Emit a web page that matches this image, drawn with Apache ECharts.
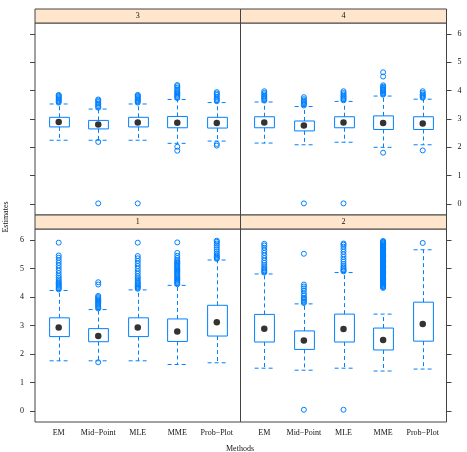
<!DOCTYPE html>
<html>
<head>
<meta charset="utf-8">
<title>Estimates by method</title>
<script src="https://cdn.jsdelivr.net/npm/echarts@6/dist/echarts.min.js"></script>
<style>
  html, body { margin: 0; padding: 0; background: #fff; }
  #chart { width: 467px; height: 452px; }
</style>
</head>
<body>
<div id="chart"></div>
<script>
(function () {
  'use strict';

  const methods = ['EM', 'Mid\u2212Point', 'MLE', 'MME', 'Prob\u2212Plot'];
  const panelNames = ['3', '4', '1', '2'];
  const yTicks = [0, 1, 2, 3, 4, 5, 6];
  const xTicks = [1, 2, 3, 4, 5];

  // per method: [lower whisker, Q1, median, Q3, upper whisker]
  const stats3 = [
    [2.25, 2.72, 2.89, 3.06, 3.53],
    [2.25, 2.65, 2.81, 2.95, 3.35],
    [2.25, 2.72, 2.88, 3.06, 3.53],
    [2.14, 2.69, 2.87, 3.09, 3.69],
    [2.22, 2.68, 2.86, 3.06, 3.58]
  ];
  const stats4 = [
    [2.15, 2.69, 2.88, 3.08, 3.60],
    [2.09, 2.58, 2.77, 2.93, 3.44],
    [2.18, 2.69, 2.88, 3.08, 3.62],
    [2.00, 2.63, 2.86, 3.11, 3.81],
    [2.09, 2.63, 2.84, 3.08, 3.70]
  ];
  const stats1 = [
    [1.76, 2.61, 2.93, 3.27, 4.23],
    [1.76, 2.43, 2.63, 2.89, 3.56],
    [1.76, 2.61, 2.93, 3.27, 4.25],
    [1.63, 2.44, 2.79, 3.23, 4.41],
    [1.69, 2.63, 3.11, 3.71, 5.30]
  ];
  const stats2 = [
    [1.50, 2.42, 2.89, 3.39, 4.81],
    [1.43, 2.16, 2.47, 2.81, 3.76],
    [1.50, 2.42, 2.88, 3.40, 4.86],
    [1.40, 2.14, 2.49, 2.91, 3.40],
    [1.47, 2.45, 3.05, 3.82, 5.66]
  ];

  // outlying points per method
  const outliers3 = [
    [3.58, 3.62, 3.66, 3.70, 3.74, 3.78, 3.82, 3.85],
    [0.02, 2.19, 3.40, 3.45, 3.50, 3.55, 3.60, 3.65, 3.69],
    [0.02, 3.58, 3.62, 3.66, 3.70, 3.74, 3.78, 3.82, 3.85],
    [1.88, 2.02, 3.74, 3.78, 3.82, 3.86, 3.90, 3.94, 3.98, 4.04, 4.10, 4.16, 4.20],
    [2.06, 2.12, 3.63, 3.68, 3.72, 3.78, 3.85, 3.90, 3.95]
  ];
  const outliers4 = [
    [3.65, 3.70, 3.74, 3.78, 3.82, 3.87, 3.92, 3.98],
    [0.02, 3.48, 3.52, 3.56, 3.60, 3.65, 3.70, 3.77],
    [0.02, 3.66, 3.70, 3.74, 3.78, 3.82, 3.87, 3.92, 3.98],
    [1.81, 3.86, 3.90, 3.94, 3.98, 4.02, 4.06, 4.10, 4.14, 4.19, 4.50, 4.65],
    [1.89, 3.75, 3.79, 3.83, 3.87, 3.92, 3.98]
  ];
  const outliers1 = [
    [4.27, 4.31, 4.35, 4.39, 4.43, 4.47, 4.51, 4.56, 4.62, 4.68, 4.75, 4.84, 4.93, 5.02, 5.11, 5.20,
     5.29, 5.38, 5.46, 5.91],
    [1.71, 3.60, 3.64, 3.68, 3.72, 3.76, 3.80, 3.84, 3.88, 3.92, 3.96, 4.00, 4.04, 4.44, 4.52],
    [4.29, 4.33, 4.37, 4.41, 4.45, 4.49, 4.54, 4.60, 4.66, 4.73, 4.82, 4.91, 5.00, 5.09, 5.18, 5.27,
     5.36, 5.44, 5.91],
    [4.45, 4.49, 4.53, 4.57, 4.61, 4.65, 4.69, 4.73, 4.77, 4.81, 4.85, 4.89, 4.93, 4.97, 5.01, 5.05,
     5.09, 5.13, 5.17, 5.21, 5.25, 5.30, 5.37, 5.45, 5.55, 5.92],
    [5.34, 5.38, 5.42, 5.47, 5.53, 5.60, 5.67, 5.74, 5.81, 5.88, 5.94, 5.98]
  ];
  const outliers2 = [
    [4.86, 4.90, 4.94, 4.99, 5.05, 5.12, 5.20, 5.28, 5.37, 5.46, 5.55, 5.64, 5.73, 5.81, 5.87],
    [0.04, 3.79, 3.83, 3.89, 3.94, 3.98, 4.05, 4.12, 4.22, 4.30, 4.37, 4.44, 5.52],
    [0.04, 4.90, 4.94, 4.98, 5.03, 5.09, 5.16, 5.24, 5.32, 5.41, 5.50, 5.59, 5.68, 5.77, 5.84, 5.88],
    [4.32, 4.35, 4.38, 4.41, 4.44, 4.47, 4.50, 4.53, 4.56, 4.59, 4.62, 4.65, 4.68, 4.71, 4.74, 4.77,
     4.80, 4.83, 4.86, 4.89, 4.92, 4.95, 4.98, 5.01, 5.04, 5.07, 5.10, 5.13, 5.16, 5.19, 5.22, 5.25,
     5.28, 5.31, 5.34, 5.37, 5.40, 5.43, 5.46, 5.49, 5.52, 5.55, 5.58, 5.61, 5.64, 5.67, 5.70, 5.73,
     5.76, 5.79, 5.82, 5.85, 5.88, 5.91, 5.94, 5.97],
    [5.90]
  ];

  const allStats = [stats3, stats4, stats1, stats2];
  const allOutliers = [outliers3, outliers4, outliers1, outliers2];

  const BLUE = '#0080ff';
  const FRAME = '#444';
  const FONT = 'Liberation Serif';

  // panel rectangles (order: 3, 4, 1, 2)
  const panels = [
    { left: 35, top: 23, width: 205.5, height: 192 },
    { left: 240.5, top: 23, width: 206, height: 192 },
    { left: 35, top: 229, width: 205.5, height: 193 },
    { left: 240.5, top: 229, width: 206, height: 193 }
  ];
  const STRIP_H = 14;

  function renderBox(params, api) {
    const x = api.value(0);
    const lo = api.coord([x, api.value(1)]);
    const q1 = api.coord([x, api.value(2)]);
    const q3 = api.coord([x, api.value(4)]);
    const hi = api.coord([x, api.value(5)]);
    const hw = api.size([0.5, 0])[0] / 2;
    const cx = Math.round(lo[0]) + 0.5;
    const dash = { stroke: BLUE, lineWidth: 1, lineDash: [4, 3], fill: null };
    return {
      type: 'group',
      children: [
        { type: 'rect', shape: { x: cx - hw, y: q3[1], width: hw * 2, height: q1[1] - q3[1] },
          style: { fill: null, stroke: BLUE, lineWidth: 1 } },
        { type: 'line', shape: { x1: cx, y1: q3[1], x2: cx, y2: hi[1] }, style: dash },
        { type: 'line', shape: { x1: cx, y1: q1[1], x2: cx, y2: lo[1] }, style: dash },
        { type: 'line', shape: { x1: cx - hw, y1: hi[1], x2: cx + hw, y2: hi[1] }, style: dash },
        { type: 'line', shape: { x1: cx - hw, y1: lo[1], x2: cx + hw, y2: lo[1] }, style: dash }
      ]
    };
  }

  const grids = panels.map(p => Object.assign({ show: true, borderColor: FRAME, borderWidth: 1, backgroundColor: '#fff' }, p));

  const xAxes = panels.map((p, i) => ({
    type: 'value', gridIndex: i, min: 0.4, max: 5.6,
    axisLine: { show: false }, axisTick: { show: false }, splitLine: { show: false },
    axisLabel: {
      show: i >= 2, customValues: xTicks, margin: 7,
      fontFamily: FONT, fontSize: 8, color: '#111',
      formatter: v => methods[Math.round(v) - 1] || ''
    }
  }));

  const yAxes = panels.map((p, i) => ({
    type: 'value', gridIndex: i, min: -0.39, max: 6.39,
    position: (i % 2 === 0) ? 'left' : 'right',
    axisLine: { show: false }, splitLine: { show: false },
    axisTick: { show: true, customValues: yTicks, length: 5, lineStyle: { color: FRAME } },
    axisLabel: {
      show: i === 1 || i === 2, customValues: yTicks, margin: 11,
      fontFamily: FONT, fontSize: 8, color: '#111'
    }
  }));

  const series = [];
  allStats.forEach((stats, i) => {
    series.push({
      type: 'custom', xAxisIndex: i, yAxisIndex: i, renderItem: renderBox,
      encode: { x: 0, y: [1, 2, 3, 4, 5] },
      data: stats.map((s, k) => [k + 1].concat(s)), z: 2
    });
    const pts = [];
    allOutliers[i].forEach((arr, k) => arr.forEach(v => pts.push([k + 1, v])));
    series.push({
      type: 'scatter', xAxisIndex: i, yAxisIndex: i, symbol: 'circle', symbolSize: 5,
      itemStyle: { color: 'rgba(0,0,0,0)', borderColor: BLUE, borderWidth: 1, opacity: 1 },
      data: pts, z: 3
    });
    series.push({
      type: 'scatter', xAxisIndex: i, yAxisIndex: i, symbol: 'circle', symbolSize: 6.5,
      itemStyle: { color: '#000' },
      data: stats.map((s, k) => [k + 1, s[2]]), z: 4
    });
  });

  const graphic = [];
  panels.forEach((p, i) => {
    graphic.push({
      type: 'rect', z: 10,
      shape: { x: p.left, y: p.top - STRIP_H, width: p.width, height: STRIP_H },
      style: { fill: '#ffe5cc', stroke: FRAME, lineWidth: 1 }
    });
    graphic.push({
      type: 'text', z: 11, x: p.left + p.width / 2, y: p.top - STRIP_H / 2,
      style: { text: panelNames[i], fontFamily: FONT, fontSize: 8, fill: '#111', align: 'center', verticalAlign: 'middle' }
    });
  });
  graphic.push({
    type: 'text', z: 11, x: 240, y: 449,
    style: { text: 'Methods', fontFamily: FONT, fontSize: 8, fill: '#111', align: 'center', verticalAlign: 'middle' }
  });
  graphic.push({
    type: 'text', z: 11, x: 6, y: 217, rotation: Math.PI / 2,
    style: { text: 'Estimates', fontFamily: FONT, fontSize: 8, fill: '#111', align: 'center', verticalAlign: 'middle' }
  });

  const chart = echarts.init(document.getElementById('chart'), null, { renderer: 'canvas' });
  chart.setOption({
    animation: false,
    backgroundColor: '#fff',
    grid: grids,
    xAxis: xAxes,
    yAxis: yAxes,
    series: series,
    graphic: graphic
  });
})();
</script>
</body>
</html>
